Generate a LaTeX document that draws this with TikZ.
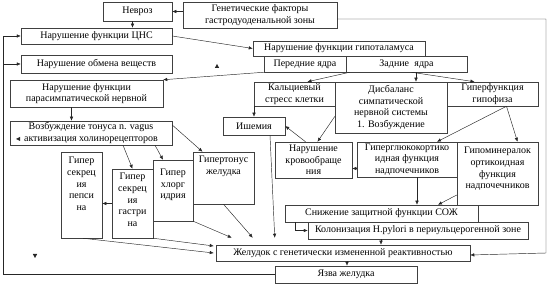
\documentclass[tikz,border=0pt]{standalone}
\usepackage{fontspec}
\setmainfont{Liberation Serif}
\usepackage{tikz}
\usetikzlibrary{arrows.meta,calc,positioning}

\begin{document}
\begin{tikzpicture}[x=1pt, y=-1pt,
        box/.style={draw=black!75, line width=0.5pt, fill=white, align=center, inner sep=1pt, font=\fontsize{10}{11.7}\selectfont},
        arr/.style={-{Latex[length=4pt, width=3.5pt]}, line width=0.45pt, draw=black!85},
        link/.style={line width=0.45pt, draw=black!85},
        tip/.style={fill=black!85}
      ]
      \useasboundingbox (0,0) rectangle (550,286);

      % upper row
      \node[box, minimum width=69pt, minimum height=19pt] (nevroz) at (137.5,11.5) {Невроз};
      \node[box, minimum width=154pt, minimum height=26pt] (genetic) at (260,15) {Генетические факторы\\гастродуоденальной зоны};
      \node[box, minimum width=151pt, minimum height=16pt] (cns) at (96.5,36) {Нарушение функции ЦНС};
      \node[box, minimum width=151pt, minimum height=18pt] (metab) at (96.5,64) {Нарушение обмена веществ};
      \node[box, minimum width=172pt, minimum height=15pt] (hypoth) at (339,48.5) {Нарушение функции гипоталамуса};
      \node[box, minimum width=82pt, minimum height=16pt] (front) at (305,64) {Передние ядра};
      \node[box, minimum width=121pt, minimum height=16pt] (back) at (406.5,64) {Задние\; ядра};

      % middle
      \node[box, minimum width=153pt, minimum height=27pt] (parasymp) at (86.5,93.5) {Нарушение функции\\парасимпатической нервной};
      \node[box, minimum width=162pt, minimum height=24pt] (vagus) at (91,133) {Возбуждение тонуса n. vagus\\активизация холинорецепторов};
      \node[box, minimum width=81pt, minimum height=24pt] (calcium) at (294.5,94) {Кальциевый\\стресс клетки};
      \node[box, minimum width=112pt, minimum height=51pt] (dysb) at (391,107.5) {Дисбаланс\\симпатической\\нервной системы\\1. Возбуждение};
      \node[box, minimum width=91pt, minimum height=24pt] (hypoph) at (492.5,94) {Гиперфункция\\гипофиза};
      \node[box, minimum width=62pt, minimum height=18pt] (ischem) at (254,126) {Ишемия};
      \node[box, minimum width=77pt, minimum height=36pt] (circ) at (313.5,160) {Нарушение\\кровообраще\\ния};
      \node[box, minimum width=100pt, minimum height=35pt] (gluco) at (407,159.5) {Гиперглюкокортико\\идная функция\\надпочечников};
      \node[box, minimum width=81pt, minimum height=63pt] (miner) at (497.5,173.5) {Гипоминералок\\ортикоидная\\функция\\надпочечников\rule[-11pt]{0pt}{11pt}};

      % narrow boxes
      \node[box, minimum width=41pt, minimum height=86pt] (pepsin) at (81.5,195) {Гипер\\секрец\\ия\\пепси\\на\rule[-22pt]{0pt}{22pt}};
      \node[box, minimum width=41pt, minimum height=69pt] (gastrin) at (132.5,203.5) {Гипер\\секрец\\ия\\гастри\\на\rule[-7pt]{0pt}{7pt}};
      \node[box, minimum width=40pt, minimum height=61pt] (chlor) at (173,190.5) {Гипер\\хлорг\\идрия\rule[-13pt]{0pt}{13pt}};
      \node[box, minimum width=61pt, minimum height=52pt] (tonus) at (223.5,178) {Гипертонус\\желудка\rule[-25pt]{0pt}{25pt}};

      % lower row
      \node[box, minimum width=193pt, minimum height=17pt] (sozh) at (381.5,213.5) {Снижение защитной функции СОЖ};
      \node[box, minimum width=220pt, minimum height=17pt] (hp) at (418,230.5) {Колонизация H.pylori в периульцерогенной зоне};
      \node[box, minimum width=254pt, minimum height=16pt] (stomach) at (343,253) {Желудок с генетически измененной реактивностью};
      \node[box, minimum width=142pt, minimum height=17pt] (ulcer) at (346,274.5) {Язва желудка};

      \coordinate (leftrail) at (3,0);
      \coordinate (rightrail) at (546,0);

      \draw[arr] (genetic.west |- nevroz.east) -- (nevroz.east);
      \draw[arr] ([xshift=-5pt]nevroz.south) -- ([xshift=-5pt]nevroz.south |- cns.north);
      \draw[arr] (cns.east) -- (hypoth.west);
      \draw[arr] ([yshift=-4pt]genetic.east) -- ([yshift=-4pt]genetic.east -| rightrail) -- (rightrail |- stomach.east) -- ([yshift=-2pt]stomach.east);
      \draw[arr] (ulcer.west) -- (ulcer.west -| leftrail) -- (leftrail |- cns.west) -- (cns.west);
      \draw[arr] (leftrail |- metab.west) -- (metab.west);

      \draw[arr] (front.south west) -- (parasymp.north east);
      \draw[arr] ([xshift=4pt]back.south west) -- ([xshift=13pt]calcium.north);
      \draw[arr] ([xshift=25pt]dysb.north |- back.south) -- ([xshift=25pt]dysb.north);
      \draw[arr] ([xshift=5pt]back.south) -- ([xshift=-18pt]hypoph.north);

      \draw[arr] ([xshift=-15pt]parasymp.south) -- ([xshift=-15pt]parasymp.south |- vagus.north);
      \draw[arr] ([xshift=32pt]vagus.south) -- (gastrin.north);
      \draw[arr] ([xshift=64pt]vagus.south) -- ([xshift=-10pt]chlor.north);
      \draw[arr] ([yshift=8pt]vagus.east) -- ([xshift=-21pt]tonus.north);
      \draw[arr] (gastrin.west) -- (gastrin.west -| pepsin.east);

      \draw[arr] ([xshift=1.5pt]pepsin.south) -- ([xshift=-2pt]stomach.west);
      \draw[arr] (gastrin.south east) -- ([xshift=-2pt, yshift=7pt]stomach.west);
      \draw[arr] (chlor.south east) -- ([xshift=16pt, yshift=7pt]stomach.north west);
      \draw[arr] (tonus.south) -- ([xshift=37pt, yshift=7pt]stomach.north west);
      \draw[arr] ([xshift=16pt]ischem.south) -- ([xshift=59pt, yshift=7pt]stomach.north west);

      \draw[arr] (ischem.north |- calcium.south) -- (ischem.north);
      \draw[arr] ([xshift=-8pt]circ.north) -- (ischem.east);
      \draw[arr] ([yshift=-9pt]dysb.west) -- ([xshift=4pt]circ.north);
      \draw[arr] ([yshift=-9pt]gluco.west) -- ([yshift=-9pt]gluco.west -| circ.east);
      \draw[arr] ([xshift=14pt]hypoph.south) -- ([xshift=30pt]gluco.north);
      \draw[arr] ([xshift=14pt]hypoph.south) -- ([xshift=20pt]miner.north);

      \draw[arr] ([xshift=10pt]gluco.south) -- ([xshift=10pt]gluco.south |- sozh.north);
      \draw[arr] ([yshift=-21.5pt]miner.west) -- ([xshift=56.5pt]sozh.north);
      \draw[arr] ([xshift=10pt]sozh.south west) -- ([xshift=10pt]sozh.south west |- hp.west) -- (hp.west);
      \draw[arr] ([xshift=-37pt]hp.south) -- ([xshift=-37pt]hp.south |- stomach.north);
      \draw[arr] ([xshift=4pt]stomach.south) -- ([xshift=4pt]stomach.south |- ulcer.north);

      % loose arrow tips
      \fill[tip] (217,64) -- (219.2,68) -- (214.8,68) -- cycle;
      \fill[tip] (16,139) -- (20,137) -- (20,141) -- cycle;
      \fill[tip] (35,258) -- (32.8,254) -- (37.2,254) -- cycle;
    \end{tikzpicture}
\end{document}
